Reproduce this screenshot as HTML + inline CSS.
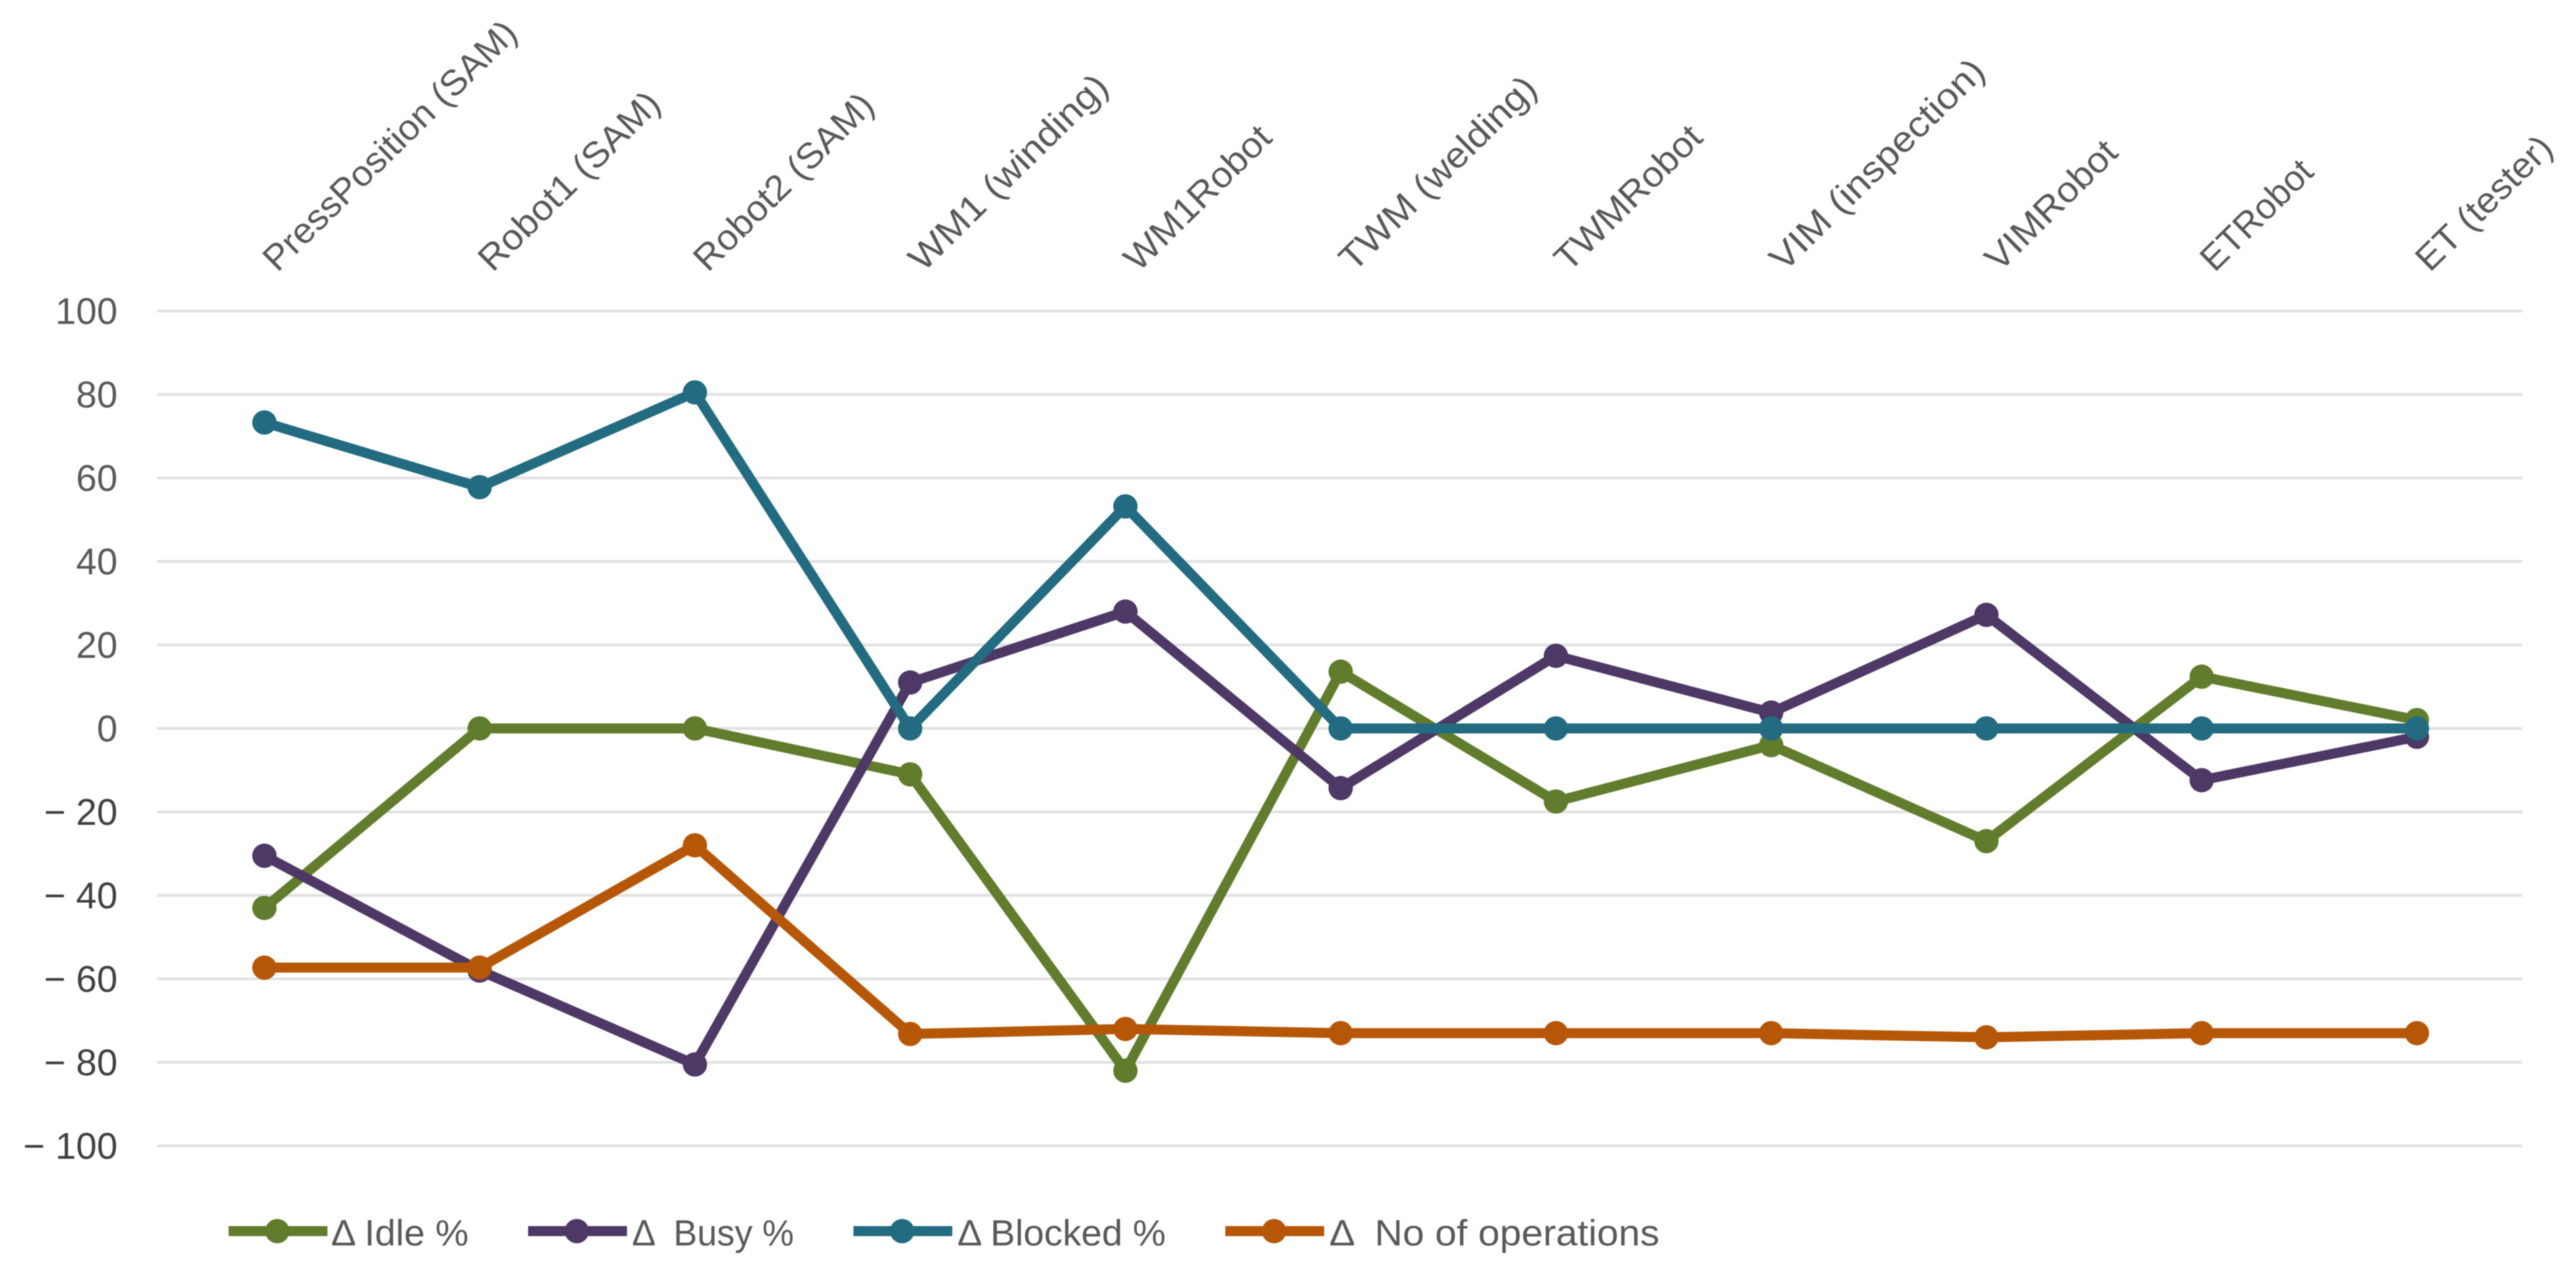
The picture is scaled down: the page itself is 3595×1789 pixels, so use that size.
<!DOCTYPE html>
<html lang="en">
<head>
<meta charset="utf-8">
<title>Delta chart</title>
<style>
html,body{margin:0;padding:0;background:#fff;width:3595px;height:1789px;overflow:hidden}
svg{display:block;filter:blur(0.8px)}
text{font-family:"Liberation Sans",sans-serif}
</style>
</head>
<body>
<svg id="chart" xmlns="http://www.w3.org/2000/svg" width="3595" height="1789" viewBox="0 0 3595 1789"></svg>
<script>
const categories = ["PressPosition (SAM)", "Robot1 (SAM)", "Robot2 (SAM)", "WM1 (winding)", "WM1Robot", "TWM (welding)", "TWMRobot", "VIM (inspection)", "VIMRobot", "ETRobot", "ET (tester)"];
const yTicks = [100, 80, 60, 40, 20, 0, -20, -40, -60, -80, -100];
const idleValues = [-43, 0, 0, -11, -82, 13.6, -17.5, -4, -27, 12.4, 2];
const busyValues = [-30.5, -58, -80.5, 11, 28, -14.3, 17.4, 3.8, 27.2, -12.4, -2];
const blockedValues = [73.3, 57.8, 80.5, 0, 53.2, 0, 0, 0, 0, 0, 0];
const opsValues = [-57.3, -57.3, -28, -73.2, -72, -73, -73, -73, -74, -73, -73];
const seriesNames = ["\u0394 Idle %", "\u0394  Busy %", "\u0394 Blocked %", "\u0394  No of operations"];

const svg = document.getElementById('chart');
const NS = 'http://www.w3.org/2000/svg';
const colors = ['#627C2D', '#4E3866', '#226B80', '#B65708'];
const seriesValues = [idleValues, busyValues, blockedValues, opsValues];
const seriesKeys = ['idle', 'busy', 'blocked', 'operations'];
const legendX = [319, 737, 1191, 1710];
const legendTextX = [462, 882, 1336, 1855];
const legendTextLen = [192, 226, 291, 461];
const labelStretch = [1.026, 1.05, 1.04, 1.10, 1.06, 1.08, 1.05, 1.10, 1.06, 1.0, 1.04];

function xScale(i) { return 369 + i * 300.4; }
function yScale(v) { return 1016.5 - v * 5.825; }
function make(tag, attrs, parent) {
  const el = document.createElementNS(NS, tag);
  for (const k in attrs) el.setAttribute(k, attrs[k]);
  parent.appendChild(el);
  return el;
}

yTicks.forEach(function (t) {
  const g = make('line', {x1: 219, x2: 3520, y1: yScale(t), y2: yScale(t), stroke: '#e2e2e2', 'stroke-width': 4}, svg);
  
  
  const lab = make('text', {x: 164, y: yScale(t) + 18, 'text-anchor': 'end', 'font-size': 52, fill: t < 0 ? '#404040' : '#595959'}, svg);
  
  
  lab.textContent = t < 0 ? '\u2212 ' + Math.abs(t) : String(t);
});

categories.forEach(function (c, i) {
  const x = xScale(i) + 18, y = 381;
  const lab = make('text', {x: x, y: y, 'font-size': 50, fill: '#595959', transform: 'rotate(-44.5 ' + x + ' ' + y + ')'}, svg);
  
  
  lab.textContent = c;
  lab.setAttribute('textLength', lab.getComputedTextLength() * labelStretch[i]);
  lab.setAttribute('lengthAdjust', 'spacingAndGlyphs');
});

seriesValues.forEach(function (vals, s) {
  const g = make('g', {}, svg);
  
  
  const pts = vals.map(function (v, i) { return xScale(i) + ',' + yScale(v); }).join(' ');
  const line = make('polyline', {points: pts, fill: 'none', stroke: colors[s], 'stroke-width': 14, 'stroke-linejoin': 'round'}, g);
  
  
  vals.forEach(function (v, i) {
    const p = make('circle', {cx: xScale(i), cy: yScale(v), r: 17, fill: colors[s]}, g);
    
    
  });
});

seriesNames.forEach(function (n, s) {
  const g = make('g', {}, svg);
  
  
  const h = make('line', {x1: legendX[s], x2: legendX[s] + 138, y1: 1718, y2: 1718, stroke: colors[s], 'stroke-width': 14}, g);
  
  
  const m = make('circle', {cx: legendX[s] + 68, cy: 1718, r: 17, fill: colors[s]}, g);
  
  
  const t = make('text', {x: legendTextX[s], y: 1738, 'font-size': 51, fill: '#595959', textLength: legendTextLen[s], lengthAdjust: 'spacingAndGlyphs', 'xml:space': 'preserve', style: 'white-space:pre'}, g);
  
  
  t.textContent = n;
});
</script>
</body>
</html>
